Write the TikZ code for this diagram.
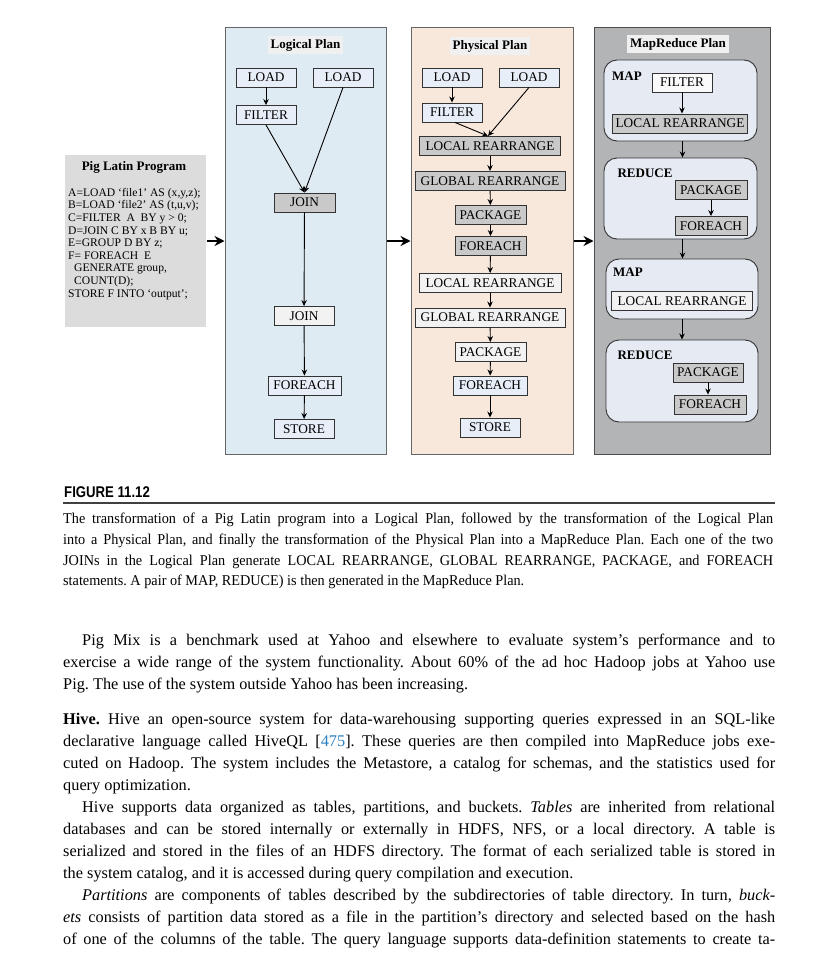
\documentclass[tikz,border=0pt]{standalone}
\usepackage{fontspec}
\setmainfont{Liberation Serif}
\newfontfamily\capfont[FakeStretch=0.95]{Liberation Serif}
\newfontfamily\figfont[FakeStretch=0.85]{Liberation Sans}
\usetikzlibrary{arrows.meta,calc}
\definecolor{logblue}{HTML}{DFEBF2}
\definecolor{phypeach}{HTML}{F8E8DC}
\definecolor{mrgray}{HTML}{B3B4B6}
\definecolor{piggray}{HTML}{DCDCDC}
\definecolor{titlebg}{HTML}{F0F0F0}
\definecolor{boxblue}{HTML}{E8EEF8}
\definecolor{boxgray}{HTML}{C9C9C9}
\definecolor{boxwhite}{HTML}{F2F2F2}
\definecolor{grpblue}{HTML}{E6EAF3}
\definecolor{linkblue}{HTML}{2A7FC0}
\newcommand{\dfont}{\fontsize{13.3}{15}\selectfont}
\newcommand{\tfont}{\fontsize{13}{15}\selectfont\bfseries}
\newcommand{\bodyfont}{\fontsize{16.3}{19}\selectfont\frenchspacing}
\newcommand{\cfont}{\capfont\fontsize{15}{17}\selectfont\frenchspacing}
\newcommand{\jline}[1]{\makebox[712pt][s]{#1}}
\newcommand{\jlinei}[1]{\hspace*{19pt}\makebox[693pt][s]{#1}}
\begin{document}
\begin{tikzpicture}[x=1pt,y=-1pt,
  panel/.style={draw=black!60, line width=1pt, inner sep=0pt},
  bx/.style={draw=black!80, line width=0.9pt, minimum height=19pt, inner sep=0pt, font=\dfont, text height=9.5pt, text depth=1pt},
  lt/.style={bx, fill=boxblue},
  gr/.style={bx, fill=boxgray},
  wh/.style={bx, fill=boxwhite},
  grp/.style={draw=black!80, line width=0.9pt, fill=grpblue, rounded corners=13pt, inner sep=0pt},
  ttl/.style={fill=titlebg, font=\tfont, inner sep=3pt},
  lbl/.style={font=\tfont, inner sep=0pt},
  ar/.style={-{Stealth[length=6pt,width=5.5pt]}, line width=0.9pt},
  bigar/.style={-{Stealth[length=10pt,width=10pt]}, line width=2.4pt},
  bl/.style={anchor=base west, inner sep=0pt, font=\bodyfont},
  cl/.style={anchor=base west, inner sep=0pt, font=\cfont}]
\useasboundingbox[fill=white] (0,0) rectangle (831,966);

% panels
\node[panel, fill=piggray, draw=none, minimum width=141, minimum height=172] (pig) at (135.5,241) {};
\node[panel, fill=logblue, minimum width=161, minimum height=426] (lp) at (305.5,241) {};
\node[panel, fill=phypeach, minimum width=162, minimum height=426] (pp) at (492,241) {};
\node[panel, fill=mrgray, draw=black!70, minimum width=176, minimum height=426] (mp) at (682,241) {};

\draw[bigar] (pig.east) -- (lp.west);
\draw[bigar] (lp.east) -- (pp.west);
\draw[bigar] (pp.east) -- (mp.west);

% Pig Latin program
\node[lbl] (pigt) at (134,167) {Pig Latin Program};
\node[anchor=north west, inner sep=0pt, align=left, font=\fontsize{11.6}{12.6}\selectfont] (code) at (68,188) {%
A=LOAD ‘file1’ AS (x,y,z);\\
B=LOAD ‘file2’ AS (t,u,v);\\
C=FILTER\ \ A\ \ BY y > 0;\\
D=JOIN C BY x B BY u;\\
E=GROUP D BY z;\\
F= FOREACH\ \ E\\
\hspace*{6pt}GENERATE group,\\
\hspace*{6pt}COUNT(D);\\
STORE F INTO ‘output’;};

% Logical plan
\node[ttl] (lt) at (305.5,45) {Logical Plan};
\node[lt, minimum width=60] (lL1) at (266,77.5) {LOAD};
\node[lt, minimum width=60] (lL2) at (343,77.5) {LOAD};
\node[lt, minimum width=60] (lF) at (266,115) {FILTER};
\node[gr, minimum width=61] (lJ1) at (304.5,202.5) {JOIN};
\node[wh, minimum width=60] (lJ2) at (304,316) {JOIN};
\node[lt, minimum width=73] (lFE) at (304.5,385.5) {FOREACH};
\node[lt, minimum width=60] (lS) at (304,429) {STORE};
\draw[ar] (lL1) -- (lF);
\draw[ar] (lF.south) -- (lJ1.north);
\draw[ar] (lL2.south) -- (lJ1.north);
\draw[ar] (lJ1) -- (lJ2);
\draw[ar] (lJ2) -- (lFE);
\draw[ar] (lFE) -- (lS);

% Physical plan
\node[ttl] (pt) at (490,46) {Physical Plan};
\node[lt, minimum width=60] (pL1) at (452,77.5) {LOAD};
\node[lt, minimum width=60] (pL2) at (529,77.5) {LOAD};
\node[lt, minimum width=60] (pF) at (452,112.5) {FILTER};
\node[gr, minimum width=141] (pLR1) at (490,146) {LOCAL REARRANGE};
\node[gr, minimum width=150] (pGR1) at (490,181) {GLOBAL REARRANGE};
\node[gr, minimum width=71] (pP1) at (490.5,215) {PACKAGE};
\node[gr, minimum width=71] (pFE1) at (490.5,246) {FOREACH};
\node[wh, minimum width=142] (pLR2) at (490,283) {LOCAL REARRANGE};
\node[wh, minimum width=150] (pGR2) at (490,317.5) {GLOBAL REARRANGE};
\node[wh, minimum width=71] (pP2) at (490.5,352) {PACKAGE};
\node[lt, minimum width=74] (pFE2) at (490,385.5) {FOREACH};
\node[lt, minimum width=60] (pS) at (490,427.5) {STORE};
\draw[ar] (pL1) -- (pF);
\draw[ar] ($(pF.south)+(3,0)$) -- ($(pLR1.north)+(-2,0)$);
\draw[ar] (pL2.south) -- ($(pLR1.north)+(-2,0)$);
\draw[ar] (pLR1) -- (pGR1);
\draw[ar] (pGR1) -- (pP1);
\draw[ar] (pP1) -- (pFE1);
\draw[ar] (pFE1) -- (pLR2);
\draw[ar] (pLR2) -- (pGR2);
\draw[ar] (pGR2) -- (pP2);
\draw[ar] (pP2) -- (pFE2);
\draw[ar] (pFE2) -- (pS);

% MapReduce plan
\node[ttl] (mt) at (678,44) {MapReduce Plan};
\node[grp, minimum width=153, minimum height=81] (map1) at (680.5,100.5) {};
\node[grp, minimum width=153, minimum height=81] (red1) at (680.5,198.5) {};
\node[grp, minimum width=152, minimum height=60] (map2) at (682,289) {};
\node[grp, minimum width=152, minimum height=82] (red2) at (682,381) {};
\node[lbl] (m1t) at (627,76) {MAP};
\node[lbl] (r1t) at (645,173) {REDUCE};
\node[lbl] (m2t) at (628,272) {MAP};
\node[lbl] (r2t) at (645,355) {REDUCE};
\node[wh, fill=white!60!boxwhite, minimum width=60] (mF) at (682,82.5) {FILTER};
\node[gr, minimum width=135] (mLR1) at (680,123.5) {LOCAL REARRANGE};
\node[gr, minimum width=72] (mP1) at (711,190) {PACKAGE};
\node[gr, minimum width=72] (mFE1) at (711,226) {FOREACH};
\node[wh, minimum width=141] (mLR2) at (682,301) {LOCAL REARRANGE};
\node[gr, minimum width=70] (mP2) at (708,372.5) {PACKAGE};
\node[gr, minimum width=72] (mFE2) at (710,404.5) {FOREACH};
\draw[ar] (mF) -- (mLR1.north -| mF);
\draw[ar] ($(map1.south)+(2,0)$) -- ($(red1.north)+(2,0)$);
\draw[ar] (mP1) -- (mFE1.north -| mP1);
\draw[ar] ($(red1.south)+(2,0)$) -- (map2.north -| {$(red1.south)+(2,0)$});
\draw[ar] (map2) -- (red2);
\draw[ar] (mP2) -- (mP2 |- mFE2.north);

% caption
\node[anchor=base west, inner sep=0pt, font=\figfont\fontsize{15.5}{17}\selectfont\bfseries] (fig) at (64,497) {FIGURE 11.12};
\draw[line width=1.3pt, black!75] (63,503) -- (775,503);
\node[cl] (c1) at (63,523) {\makebox[710pt][s]{The transformation of a Pig Latin program into a Logical Plan, followed by the transformation of the Logical Plan}};
\node[cl] (c2) at (63,544) {\makebox[710pt][s]{into a Physical Plan, and finally the transformation of the Physical Plan into a MapReduce Plan. Each one of the two}};
\node[cl] (c3) at (63,565) {\makebox[710pt][s]{JOINs in the Logical Plan generate LOCAL REARRANGE, GLOBAL REARRANGE, PACKAGE, and FOREACH}};
\node[cl] (c4) at (63,585) {statements. A pair of MAP, REDUCE) is then generated in the MapReduce Plan.};

% body text
\node[bl] (b1) at (63,645) {\jlinei{Pig Mix is a benchmark used at Yahoo and elsewhere to evaluate system’s performance and to}};
\node[bl] (b2) at (63,667) {\jline{exercise a wide range of the system functionality. About 60\% of the ad hoc Hadoop jobs at Yahoo use}};
\node[bl] (b3) at (63,689) {Pig. The use of the system outside Yahoo has been increasing.};
\node[bl] (b4) at (63,724) {\jline{\textbf{Hive.} Hive an open-source system for data-warehousing supporting queries expressed in an SQL-like}};
\node[bl] (b5) at (63,746) {\jline{declarative language called HiveQL [\textcolor{linkblue}{475}]. These queries are then compiled into MapReduce jobs exe-}};
\node[bl] (b6) at (63,768) {\jline{cuted on Hadoop. The system includes the Metastore, a catalog for schemas, and the statistics used for}};
\node[bl] (b7) at (63,790) {query optimization.};
\node[bl] (b8) at (63,812) {\jlinei{Hive supports data organized as tables, partitions, and buckets. \textit{Tables} are inherited from relational}};
\node[bl] (b9) at (63,834) {\jline{databases and can be stored internally or externally in HDFS, NFS, or a local directory. A table is}};
\node[bl] (b10) at (63,856) {\jline{serialized and stored in the files of an HDFS directory. The format of each serialized table is stored in}};
\node[bl] (b11) at (63,878) {the system catalog, and it is accessed during query compilation and execution.};
\node[bl] (b12) at (63,900) {\jlinei{\textit{Partitions} are components of tables described by the subdirectories of table directory. In turn, \textit{buck-}}};
\node[bl] (b13) at (63,922) {\jline{\textit{ets} consists of partition data stored as a file in the partition’s directory and selected based on the hash}};
\node[bl] (b14) at (63,944) {\jline{of one of the columns of the table. The query language supports data-definition statements to create ta-}};
\end{tikzpicture}
\end{document}
